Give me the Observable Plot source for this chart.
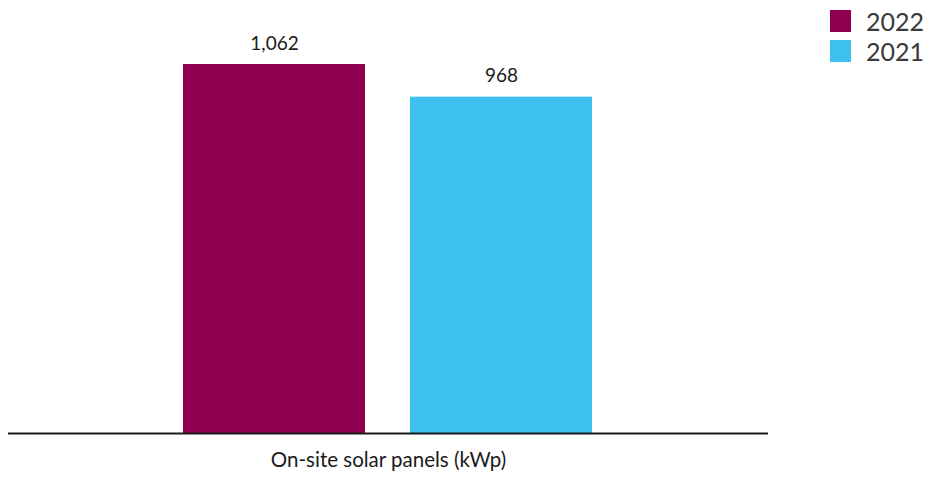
<!DOCTYPE html>
<html>
<head>
<meta charset="utf-8">
<script src="https://cdn.jsdelivr.net/npm/d3@7"></script>
<script src="https://cdn.jsdelivr.net/npm/@observablehq/plot@0.6"></script>
<style>
  html, body { margin: 0; padding: 0; background: #fff; }
  #wrap { position: relative; width: 925px; height: 482px; font-family: Lato, "Open Sans", sans-serif; }
  #legend { position: absolute; left: 830px; top: 10px; display: flex; flex-direction: column; gap: 8px; }
  .item { display: flex; align-items: center; height: 22px; }
  .sw { width: 21px; height: 22px; margin-right: 15px; }
  .lbl { font-size: 25px; color: #3a3a3a; line-height: 22px; }
</style>
</head>
<body>
<div id="wrap"><div id="legend"></div></div>
<script>
// On-site solar panel capacity (kWp) by year
const years = ["2022", "2021"];
const values = [1062, 968];
const colors = ["#8e004f", "#3fc1f0"];
const category = "On-site solar panels (kWp)";

const data = years.map((year, i) => ({year, value: values[i]}));

const chart = Plot.plot({
  width: 925,
  height: 482,
  marginLeft: 8,
  marginRight: 157,
  marginTop: 64,
  marginBottom: 49,
  style: {fontFamily: "Lato, 'Open Sans', sans-serif", background: "#fff"},
  x: {domain: years, range: [182, 592], paddingInner: 0.2, paddingOuter: 0, axis: null},
  y: {domain: [0, 1062], axis: null},
  color: {domain: years, range: colors},
  marks: [
    Plot.barY(data, {x: "year", y: "value", fill: "year"}),
    Plot.text(data, {
      x: "year", y: "value", text: d => d3.format(",")(d.value),
      dy: -21, fontSize: 19, fill: "#1a1a1a"
    }),
    Plot.ruleY([0], {stroke: "#1a1a1a", strokeWidth: 2}),
    Plot.text([category], {
      frameAnchor: "bottom", dy: 33, fontSize: 20.5, fill: "#1a1a1a"
    })
  ]
});
document.getElementById("wrap").appendChild(chart);
chart.style.position = "absolute";
chart.style.left = "0";
chart.style.top = "0";

// Legend, newest year first
const legend = d3.select("#legend");
years.forEach((y, i) => {
  const item = legend.append("div").attr("class", "item");
  item.append("div").attr("class", "sw").style("background", colors[i]);
  item.append("div").attr("class", "lbl").text(y);
});
document.getElementById("wrap").appendChild(document.getElementById("legend"));
</script>
</body>
</html>
